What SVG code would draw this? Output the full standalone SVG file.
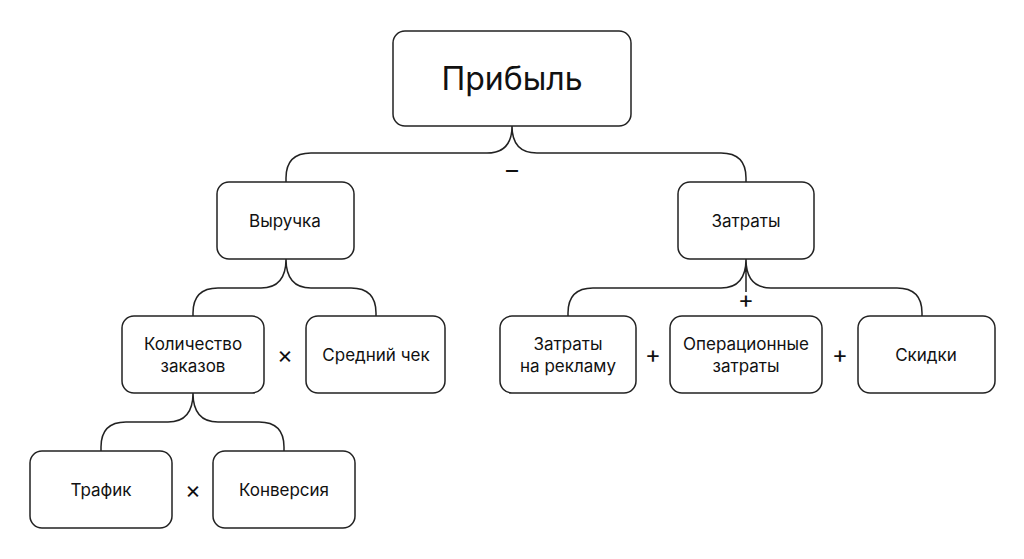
<svg xmlns="http://www.w3.org/2000/svg" width="1024" height="559" viewBox="0 0 1024 559">
<style>
.n rect{fill:#fff;stroke:#222;stroke-width:1.5}
text{font-family:Inter,"Noto Sans",sans-serif;fill:#111;text-anchor:middle}
.t{font-size:17px}
.c path{fill:none;stroke:#222;stroke-width:1.5}
.op{font-size:24px}
</style>
<rect width="1024" height="559" fill="#fff"/>
<g class="c">
<path d="M512,126 Q512,153 487,153 H311 Q286,153 286,178 V182 M512,126 Q512,153 537,153 H721 Q746,153 746,178 V182"/>
<path d="M286,259 Q286,288 261,288 H218 Q193,288 193,313 V316 M286,259 Q286,288 311,288 H351 Q376,288 376,313 V316"/>
<path d="M746,259 Q746,288 721,288 H593 Q568,288 568,313 V316 M746,259 Q746,288 771,288 H897 Q922,288 922,313 V316 M746,259 V292"/>
<path d="M193,393 Q193,422 168,422 H126 Q101,422 101,447 V451 M193,393 Q193,422 218,422 H259 Q284,422 284,447 V451"/>
</g>
<g id="n-pribyl" class="n"><rect x="393" y="31" width="238" height="95" rx="12"/><text x="512" y="90" font-size="32">Прибыль</text></g>
<g id="n-vyruchka" class="n"><rect x="217" y="182" width="137" height="77" rx="12"/><text class="t" x="285" y="227">Выручка</text></g>
<g id="n-zatraty" class="n"><rect x="678" y="182" width="136" height="77" rx="12"/><text class="t" x="746" y="227">Затраты</text></g>
<g id="n-kol" class="n"><rect x="122" y="316" width="142" height="77" rx="12"/><text class="t" x="193" y="350">Количество</text><text class="t" x="193" y="372">заказов</text></g>
<g id="n-chek" class="n"><rect x="306" y="316" width="139" height="77" rx="12"/><text class="t" x="376" y="361">Средний чек</text></g>
<g id="n-reklama" class="n"><rect x="500" y="316" width="136" height="77" rx="12"/><text class="t" x="568" y="350">Затраты</text><text class="t" x="568" y="372">на рекламу</text></g>
<g id="n-oper" class="n"><rect x="670" y="316" width="152" height="77" rx="12"/><text class="t" x="746" y="350">Операционные</text><text class="t" x="746" y="372">затраты</text></g>
<g id="n-skidki" class="n"><rect x="858" y="316" width="137" height="77" rx="12"/><text class="t" x="926" y="361">Скидки</text></g>
<g id="n-trafik" class="n"><rect x="30" y="451" width="142" height="77" rx="12"/><text class="t" x="101" y="496">Трафик</text></g>
<g id="n-konv" class="n"><rect x="213" y="451" width="142" height="77" rx="12"/><text class="t" x="284" y="496">Конверсия</text></g>
<g id="ops">
<text class="op" x="512" y="178">–</text>
<text class="op" x="285" y="363">×</text>
<text class="op" x="746" y="308">+</text>
<text class="op" x="653" y="363">+</text>
<text class="op" x="840" y="363">+</text>
<text class="op" x="193" y="498">×</text>
</g>
</svg>
